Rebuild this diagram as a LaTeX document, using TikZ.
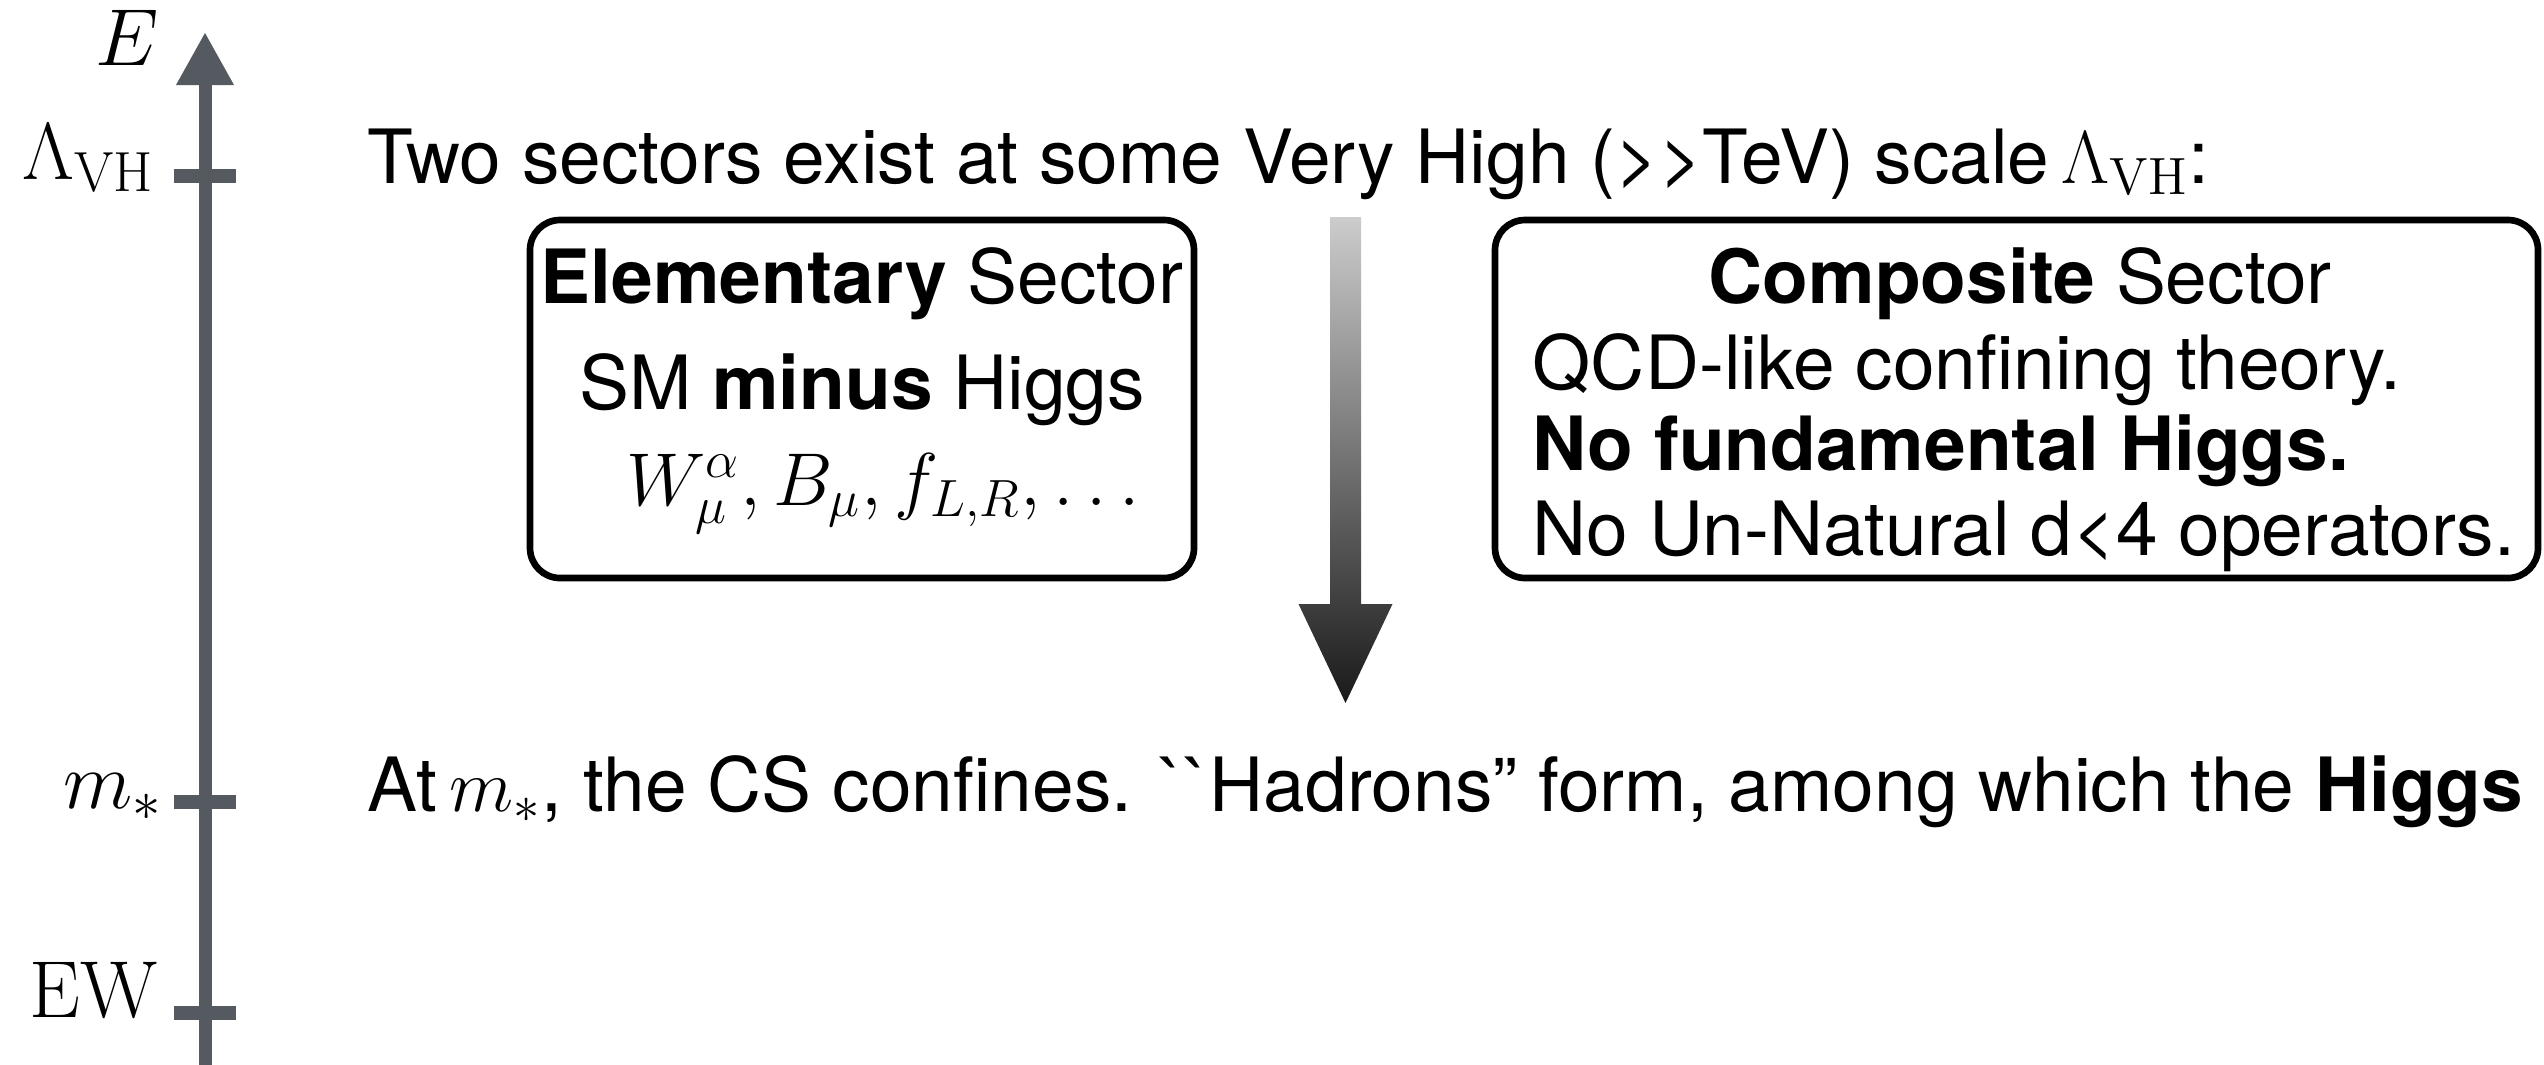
\documentclass[tikz,border=0pt]{standalone}
\usepackage{fix-cm}
\usepackage{fontspec}
\newfontfamily\hv{TeX Gyre Heros}
\usetikzlibrary{arrows.meta,calc}
\definecolor{axisgray}{RGB}{85,90,96}
\tikzset{
  txt/.style={font=\hv\fontsize{21.3}{25}\selectfont, inner sep=0pt},
  lbl/.style={font=\fontsize{23}{27}\selectfont, inner sep=0pt, anchor=base east},
  sectorbox/.style={draw=black, line width=1.9pt, rounded corners=0.3cm, inner sep=0pt},
  tickmark/.style={draw=axisgray, line width=0.14cm},
}
\begin{document}
\begin{tikzpicture}[x=1cm,y=1cm]
\useasboundingbox (0,0) rectangle (25.44,-10.64);

% energy axis
\coordinate (axbot) at (2.05,-10.70);
\coordinate (axtop) at (2.05,-0.32);
\draw[axisgray, line width=0.13cm, -{Triangle[width=0.54cm,length=0.53cm]}] (axbot) -- (axtop);

% scale ticks
\coordinate (tVH) at (2.05,-1.76);
\coordinate (tM) at (2.05,-8.02);
\coordinate (tEW) at (2.05,-10.13);
\foreach \t in {tVH,tM,tEW}
  \draw[tickmark] ($(\t)+(-0.31,0)$) -- ($(\t)+(0.31,0)$);

% axis labels
\node[lbl] (lE) at (1.60,-0.65) {$E$};
\node[lbl] (lVH) at (1.55,-1.79) {$\Lambda_{\rm VH}$};
\node[lbl] (lM) at (1.63,-8.08) {$m_*$};
\node[lbl] (lEW) at (1.58,-10.17) {EW};

% headline
\node[txt, anchor=base west] (head) at (3.67,-1.83)
  {Two sectors exist at some Very High (>\kern0pt>TeV) scale\,$\Lambda_{\rm VH}$:};

% elementary sector
\node[sectorbox, minimum width=6.64cm, minimum height=3.58cm] (elem) at (8.62,-3.99) {};
\node[txt, anchor=base] (el1) at (8.62,-3.03) {{\bfseries Elementary} Sector};
\node[txt, anchor=base] (el2) at (8.62,-4.09) {SM {\bfseries minus} Higgs};
\node[txt, anchor=base] (el3) at (8.83,-5.05) {$W^\alpha_\mu, B_\mu, f_{L,R},\ldots$};

% composite sector
\node[sectorbox, minimum width=10.43cm, minimum height=3.58cm] (comp) at (20.165,-3.99) {};
\node[txt, anchor=base] (co1) at (20.20,-3.03) {{\bfseries Composite} Sector};
\node[txt, anchor=base west] (co2) at (15.32,-3.89) {QCD-like confining theory.};
\node[txt, anchor=base west] (co3) at (15.32,-4.70) {\bfseries No fundamental Higgs.};
\node[txt, anchor=base west] (co4) at (15.32,-5.55) {No Un-Natural d<4 operators.};

% shaded arrow running down in energy
\coordinate (gtop) at (13.455,-2.17);
\coordinate (gbase) at (13.455,-6.04);
\coordinate (gtip) at (13.455,-7.03);
\shade[top color=black!20, bottom color=black!90]
  ($(gtop)+(-0.155,0)$) -- ($(gtop)+(0.155,0)$) -- ($(gbase)+(0.155,0)$)
  -- ($(gbase)+(0.47,0)$) -- (gtip) -- ($(gbase)+(-0.47,0)$)
  -- ($(gbase)+(-0.155,0)$) -- cycle;

% confinement line
\node[txt, anchor=base west] (conf) at (3.67,-8.11)
  {At\,$m_*$, the CS confines. ``Hadrons” form, among which the {\bfseries Higgs}};
\end{tikzpicture}
\end{document}
